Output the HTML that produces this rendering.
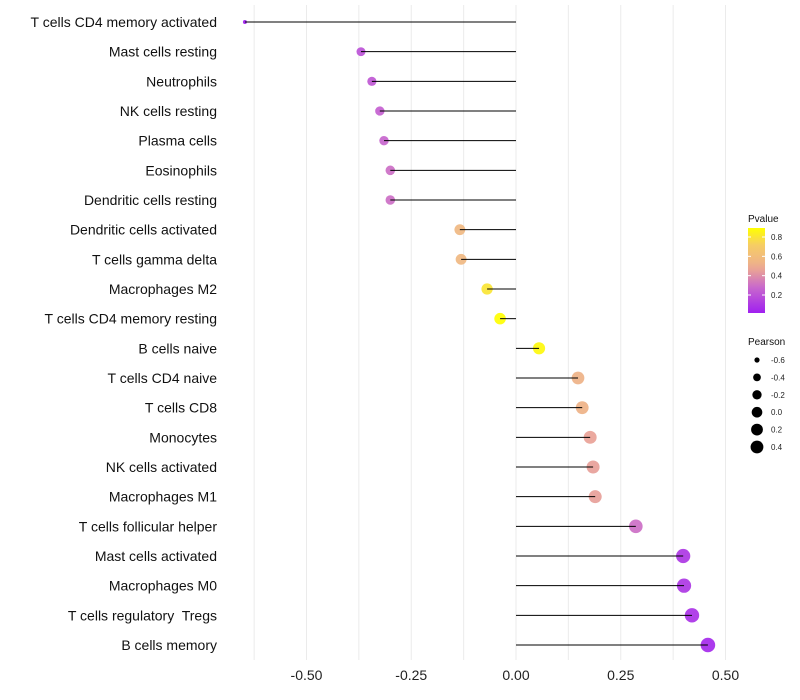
<!DOCTYPE html>
<html><head><meta charset="utf-8"><style>body{margin:0;background:#fff}svg{display:block;font-family:"Liberation Sans",sans-serif}text{white-space:pre}</style></head>
<body>
<svg id="c" width="800" height="700"></svg>
<script>
const categories=["T cells CD4 memory activated","Mast cells resting","Neutrophils","NK cells resting","Plasma cells","Eosinophils","Dendritic cells resting","Dendritic cells activated","T cells gamma delta","Macrophages M2","T cells CD4 memory resting","B cells naive","T cells CD4 naive","T cells CD8","Monocytes","NK cells activated","Macrophages M1","T cells follicular helper","Mast cells activated","Macrophages M0","T cells regulatory  Tregs","B cells memory"];
const pearson=[-0.647,-0.37,-0.344,-0.325,-0.315,-0.30,-0.30,-0.134,-0.131,-0.069,-0.038,0.055,0.148,0.158,0.177,0.184,0.189,0.286,0.399,0.401,0.42,0.458];
const pvalue=[0.015,0.2,0.22,0.25,0.27,0.3,0.3,0.56,0.56,0.8,0.89,0.87,0.53,0.53,0.46,0.45,0.45,0.3,0.1,0.1,0.08,0.05];
const xTicks=[-0.5,-0.25,0,0.25,0.5];
const xTickLabels=["-0.50","-0.25","0.00","0.25","0.50"];
const pTicks=[0.2,0.4,0.6,0.8];
const sizeTicks=[-0.6,-0.4,-0.2,0.0,0.2,0.4];

const NS="http://www.w3.org/2000/svg",svg=document.getElementById('c');
function mk(t,a,p){const e=document.createElementNS(NS,t);for(const k in a)e.setAttribute(k,a[k]);(p||svg).appendChild(e);return e;}
const x=v=>516+v*419;
const y=i=>22+i*(623/(categories.length-1));
const pMin=0.014,pMax=0.893;
const stops=[[0,[160,32,240]],[0.3,[200,104,204]],[0.5,[232,160,152]],[0.6,[239,181,133]],[0.8,[246,205,100]],[1,[255,255,0]]];
function col(p){let t=Math.max(0,Math.min(1,(p-pMin)/(pMax-pMin)));for(let i=1;i<stops.length;i++){if(t<=stops[i][0]){const a=stops[i-1],b=stops[i],f=(t-a[0])/(b[0]-a[0]);return 'rgb('+a[1].map((c,j)=>Math.round(c+(b[1][j]-c)*f)).join(',')+')';}}return 'rgb(255,255,0)';}
function rad(v){const a=v<-0.37?4+58*(v+0.647):20+40*(v+0.37);return Math.sqrt(Math.max(3,a));}

for(let g=-0.625;g<=0.5001;g+=0.125){const l=mk('line',{x1:x(g),x2:x(g),y1:5,y2:660,stroke:'#ebebeb','stroke-width':1});

}
xTicks.forEach((v,i)=>{const t=mk('text',{x:x(v),y:680,'text-anchor':'middle','font-size':14,fill:'#222'});t.textContent=xTickLabels[i];

});
categories.forEach((c,i)=>{
 const t=mk('text',{x:217,y:y(i)+5,'text-anchor':'end','font-size':14,fill:'#111'});t.textContent=c;
 
 
 const pt=mk('circle',{cx:x(pearson[i]),cy:y(i),r:rad(pearson[i]),fill:col(pvalue[i]),opacity:0.92});
 
 
 const l=mk('line',{x1:x(0),x2:x(pearson[i]),y1:y(i),y2:y(i),stroke:'#000','stroke-width':1});
 
 
});
const lg=mk('g',{});
let tt=mk('text',{x:748,y:222,'font-size':10,fill:'#111'},lg);tt.textContent='Pvalue';
const df=mk('defs',{}),gr=mk('linearGradient',{id:'pg',x1:0,y1:1,x2:0,y2:0},df);
for(let k=0;k<=20;k++){mk('stop',{offset:k/20,'stop-color':col(pMin+(pMax-pMin)*k/20)},gr);}
const bar=mk('rect',{x:748,y:228,width:17,height:85,fill:'url(#pg)'},lg);

pTicks.forEach(v=>{const yy=313-(v-pMin)/(pMax-pMin)*85;mk('line',{x1:748,x2:751,y1:yy,y2:yy,stroke:'#fff'},lg);mk('line',{x1:762,x2:765,y1:yy,y2:yy,stroke:'#fff'},lg);
 const t=mk('text',{x:771,y:yy+3,'font-size':8,fill:'#222'},lg);t.textContent=v.toFixed(1);
 
 });
tt=mk('text',{x:748,y:345,'font-size':10,fill:'#111'},lg);tt.textContent='Pearson';
sizeTicks.forEach((v,i)=>{const yy=360+i*17.4;const c=mk('circle',{cx:757,cy:yy,r:Math.max(2.6,rad(v)*0.9),fill:'#000'},lg);
 
 
 const t=mk('text',{x:771,y:yy+3,'font-size':8,fill:'#222'},lg);t.textContent=v.toFixed(1);
 
 });
</script>
</body></html>
